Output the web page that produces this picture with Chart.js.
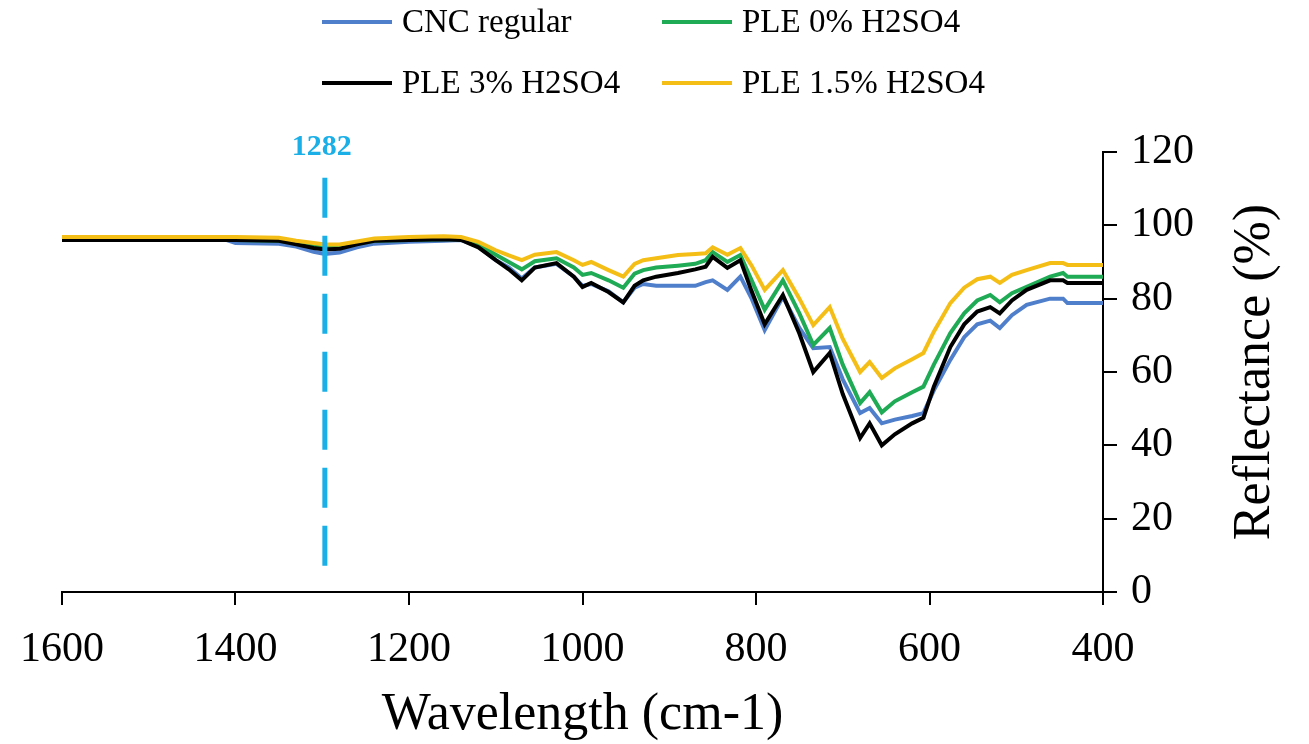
<!DOCTYPE html>
<html>
<head>
<meta charset="utf-8">
<title>Reflectance</title>
<script src="https://cdn.jsdelivr.net/npm/chart.js@4"></script>
<style>
body { margin: 0; background: #fff; }
</style>
</head>
<body>
<canvas id="chart" width="1309" height="744"></canvas>
<script>
// data (wavelength in cm-1, reflectance in %)
var wavelengths = [1600, 1410, 1400, 1350, 1330, 1310, 1297, 1280, 1260, 1240, 1200, 1160, 1140, 1120, 1100, 1085, 1070, 1055, 1030, 1010,
  1000, 990, 970, 953, 940, 930, 915, 890, 870, 858, 850, 833, 818, 805, 790, 769, 750, 734, 715, 700,
  680, 669, 655, 640, 620, 607, 595, 576, 560, 545, 530, 519, 505, 488, 461, 446, 441, 400];

var cncRegular = [96, 96, 95.2, 95, 94.2, 92.8, 92.2, 92.6, 94, 95, 95.5, 95.8, 96, 94.2, 90.5, 88.5, 85.5, 88.5, 89.5, 86,
  83.5, 84, 82, 79, 83, 84, 83.5, 83.5, 83.5, 84.5, 85, 82.4, 86, 80, 71.4, 80.5, 72, 66.5, 66.8, 58,
  48.8, 50.2, 46, 47, 48, 48.8, 55, 63.3, 69.5, 73, 74, 72, 75.5, 78.3, 80, 80, 78.8, 78.8];

var ple0 = [96.2, 96.2, 96, 95.8, 95.2, 94.5, 94, 94, 95, 95.8, 96, 96.2, 96.2, 94.8, 92, 90, 88, 90.2, 91, 88.5,
  86.5, 87, 85, 83, 86.8, 87.8, 88.5, 89, 89.5, 90.5, 92.7, 90, 91.9, 85, 77, 85, 76, 67.4, 72, 62,
  51.5, 54.5, 49, 52, 54.5, 56, 62, 70.6, 76, 79.5, 81, 79, 81.5, 83.2, 86, 87, 86, 86];

var ple3 = [96, 96, 96, 95.8, 94.8, 93.8, 93.4, 93.6, 94.8, 95.8, 96, 96.2, 96, 94, 90.5, 88, 85, 88.5, 89.7, 86,
  83.2, 84.3, 81.8, 79, 83.5, 85, 86, 87, 88, 88.7, 91.4, 88.4, 90.5, 82, 73, 81, 70.5, 60, 65.2, 54,
  42, 46, 40, 43, 46, 47.5, 56, 66.8, 73, 76.5, 77.7, 76, 79.5, 82.4, 85, 85, 84.3, 84.3];

var ple15 = [96.8, 96.8, 96.8, 96.6, 95.8, 95.2, 94.8, 94.8, 95.6, 96.4, 96.8, 97, 96.8, 95.5, 93.2, 91.8, 90.5, 92, 92.7, 90.5,
  89.2, 90, 87.8, 86, 89.5, 90.5, 91, 91.9, 92.2, 92.4, 94, 92, 93.8, 89, 82.4, 87.8, 80, 72.8, 77.7, 69,
  60, 62.7, 58.4, 61, 63.5, 65.2, 71, 78.8, 83, 85.3, 86, 84.3, 86.5, 87.8, 89.7, 89.7, 89.2, 89.2];

var seriesNames = ["CNC regular", "PLE 0% H2SO4", "PLE 3% H2SO4", "PLE 1.5% H2SO4"];
var seriesColors = ["#4f7fcb", "#1faa55", "#000000", "#f5be16"];

var markerWave = 1297;
var markerRange = [113, 3];
var markerLabel = "1282";

var xTitle = "Wavelength (cm-1)";
var yTitle = "Reflectance (%)";

Chart.defaults.font.family = '"Liberation Serif", "Times New Roman", serif';
Chart.defaults.color = "#000";

function toPoints(values) {
  return wavelengths.map(function(w, i) { return { x: w, y: values[i] }; });
}

var allSeries = [cncRegular, ple0, ple3, ple15];
var drawOrder = [3, 2, 1, 0]; // yellow on top, then black, green, blue

var datasets = allSeries.map(function(vals, i) {
  return {
    label: seriesNames[i],
    data: toPoints(vals),
    borderColor: seriesColors[i],
    borderWidth: 4,
    pointRadius: 0,
    tension: 0,
    order: drawOrder[i]
  };
});

datasets.push({
  label: "marker",
  data: [{ x: markerWave, y: markerRange[0] }, { x: markerWave, y: markerRange[1] }],
  borderColor: "#1aafe6",
  borderWidth: 5,
  borderDash: [40, 18],
  pointRadius: 0,
  order: -1
});

var extras = {
  id: "extras",
  afterDraw: function(chart) {
    var ctx = chart.ctx;
    var xs = chart.scales.x, ys = chart.scales.y;
    ctx.save();

    // marker label
    ctx.fillStyle = "#1aafe6";
    ctx.font = 'bold 30px "Liberation Serif"';
    ctx.textAlign = "center";
    ctx.textBaseline = "middle";
    ctx.fillText(markerLabel, xs.getPixelForValue(markerWave) - 3, ys.getPixelForValue(markerRange[0]) - 30);

    // legend, two columns
    ctx.font = '33px "Liberation Serif"';
    ctx.textAlign = "left";
    var cols = [322, 662], rows = [22, 83];
    var cells = [[0, 0], [1, 0], [0, 1], [1, 1]];
    for (var i = 0; i < seriesNames.length; i++) {
      var cx = cols[cells[i][0]], cy = rows[cells[i][1]];
      ctx.strokeStyle = seriesColors[i];
      ctx.lineWidth = 4;
      ctx.beginPath();
      ctx.moveTo(cx, cy);
      ctx.lineTo(cx + 70, cy);
      ctx.stroke();
      ctx.fillStyle = "#000";
      ctx.fillText(seriesNames[i], cx + 80, cy + 1);
    }

    // y title, reads bottom to top
    ctx.translate(1255, (ys.top + ys.bottom) / 2);
    ctx.rotate(-Math.PI / 2);
    ctx.textAlign = "center";
    ctx.font = '52px "Liberation Serif"';
    ctx.fillText(yTitle, 0, 0);
    ctx.restore();
  }
};

new Chart(document.getElementById("chart"), {
  type: "line",
  data: { datasets: datasets },
  options: {
    responsive: false,
    animation: false,
    layout: { padding: { top: 152, left: 62, right: 0, bottom: 0 } },
    plugins: { legend: { display: false }, tooltip: { enabled: false } },
    scales: {
      x: {
        type: "linear",
        reverse: true,
        min: 400,
        max: 1600,
        afterFit: function(s) { s.height = 152; },
        border: { display: true, color: "#000", width: 2 },
        grid: { drawOnChartArea: false, drawTicks: true, tickLength: 13, color: "#000", lineWidth: 2 },
        ticks: {
          stepSize: 200,
          padding: 20,
          maxRotation: 0,
          font: { size: 42 },
          callback: function(v) { return String(v); }
        },
        title: {
          display: true,
          text: xTitle,
          font: { size: 52, lineHeight: 1.1 },
          padding: { top: 0, bottom: 0 }
        }
      },
      y: {
        position: "right",
        min: 0,
        max: 120,
        afterFit: function(s) { s.width = 206; },
        border: { display: true, color: "#000", width: 2 },
        grid: { drawOnChartArea: false, drawTicks: true, tickLength: 14, color: "#000", lineWidth: 2 },
        ticks: {
          stepSize: 20,
          padding: 14,
          font: { size: 42 },
          callback: function(v) { return String(v); }
        }
      }
    }
  },
  plugins: [extras]
});
</script>
</body>
</html>
